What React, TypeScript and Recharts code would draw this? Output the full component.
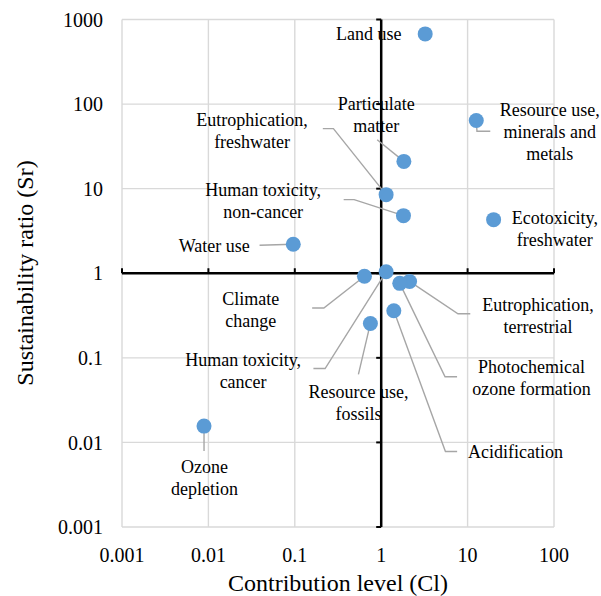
import React from 'react';
import {
  ScatterChart,
  Scatter,
  XAxis,
  YAxis,
  CartesianGrid,
  ReferenceLine,
  Label,
} from 'recharts';

const categories = [
  'Land use',
  'Resource use, minerals and metals',
  'Particulate matter',
  'Eutrophication, freshwater',
  'Human toxicity, non-cancer',
  'Ecotoxicity, freshwater',
  'Water use',
  'Climate change',
  'Human toxicity, cancer',
  'Eutrophication, terrestrial',
  'Photochemical ozone formation',
  'Acidification',
  'Resource use, fossils',
  'Ozone depletion',
];

// Contribution level (Cl)
const contributionLevel = [3.23, 12.6, 1.83, 1.14, 1.81, 20, 0.096, 0.64, 1.14, 2.13, 1.64, 1.4, 0.75, 0.0089];
// Sustainability ratio (Sr)
const sustainabilityRatio = [676, 64, 21, 8.5, 4.8, 4.3, 2.2, 0.92, 1.04, 0.8, 0.76, 0.36, 0.255, 0.0156];

const xTicks = [0.001, 0.01, 0.1, 1, 10, 100];
const yTicks = [0.001, 0.01, 0.1, 1, 10, 100, 1000];

const labelLines: string[][] = [
  ['Land use'],
  ['Resource use,', 'minerals and', 'metals'],
  ['Particulate', 'matter'],
  ['Eutrophication,', 'freshwater'],
  ['Human toxicity,', 'non-cancer'],
  ['Ecotoxicity,', 'freshwater'],
  ['Water use'],
  ['Climate', 'change'],
  ['Human toxicity,', 'cancer'],
  ['Eutrophication,', 'terrestrial'],
  ['Photochemical', 'ozone formation'],
  ['Acidification'],
  ['Resource use,', 'fossils'],
  ['Ozone', 'depletion'],
];

// label placement in px relative to the marker: centre x, first line y
const labelOffsets: [number, number][] = [
  [-56.5, 0],
  [73.5, -10],
  [-27.7, -57.7],
  [-134, -74.3],
  [-140.3, -25.5],
  [61.2, -2],
  [-79, 1.5],
  [-113.6, 22.3],
  [-143, 88],
  [128.4, 23.3],
  [131.8, 83.4],
  [121.6, 141.7],
  [-11.8, 68.4],
  [0.5, 40.7],
];

// leader line vertices in px relative to the marker
const leaderPaths: [number, number][][] = [
  [],
  [[0, 0], [0.7, 10.7], [14, 10.7]],
  [[-26.7, -21.7], [0, 0]],
  [[-63.3, -66], [-52.7, -66], [0, 0]],
  [[-59.8, -16], [-49.3, -16], [0, 0]],
  [],
  [[-33.7, 1], [0, 0]],
  [[-52.3, 31.7], [-40.6, 31.7], [0, 0]],
  [[-72.7, 96.7], [-61, 96.7], [0, 0]],
  [[60.7, 32.3], [48.4, 32.3], [0, 0]],
  [[57.3, 93.4], [45.3, 93.4], [0, 0]],
  [[63.3, 140.7], [51.6, 140.7], [0, 0]],
  [[-12, 51], [0, 0]],
  [[0, 0], [0, 25]],
];

const FONT = '"Liberation Serif", "Times New Roman", serif';
const LINE_H = 22;

const points = categories.map((name, i) => ({
  name,
  idx: i,
  cl: contributionLevel[i],
  sr: sustainabilityRatio[i],
}));
const xAxisMarks = xTicks.map((t) => ({ cl: t, sr: 1 }));
const yAxisMarks = yTicks.map((t) => ({ cl: 1, sr: t }));

const fmt = (v: number) => String(v);

const Leader = (props: any) => {
  const { cx, cy, payload } = props;
  const path = leaderPaths[payload.idx];
  if (!path || path.length < 2) return <g />;
  const pts = path.map(([dx, dy]) => `${cx + dx},${cy + dy}`).join(' ');
  return <polyline points={pts} fill="none" stroke="#a6a6a6" strokeWidth={1.4} />;
};

const Dot = (props: any) => {
  const { cx, cy } = props;
  return <circle cx={cx} cy={cy} r={7.5} fill="#5b9bd5" />;
};

const PointLabel = (props: any) => {
  const { cx, cy, payload } = props;
  const [dx, dy] = labelOffsets[payload.idx];
  return (
    <g>
      {labelLines[payload.idx].map((line, k) => (
        <text
          key={k}
          x={cx + dx}
          y={cy + dy + k * LINE_H}
          textAnchor="middle"
          dominantBaseline="central"
          fontFamily={FONT}
          fontSize={18}
          fill="#000"
        >
          {line}
        </text>
      ))}
    </g>
  );
};

const XTickMark = (props: any) => {
  const { cx, cy } = props;
  return <line x1={cx} y1={cy} x2={cx} y2={cy - 5} stroke="#000" strokeWidth={2} />;
};

const YTickMark = (props: any) => {
  const { cx, cy } = props;
  return <line x1={cx} y1={cy} x2={cx - 5} y2={cy} stroke="#000" strokeWidth={2} />;
};

export default function App() {
  return (
    <div style={{ position: 'absolute', left: 0, top: 0, background: '#fff' }}>
      <ScatterChart
        width={601}
        height={596}
        margin={{ top: 19.5, right: 47, left: 0, bottom: 0 }}
      >
        <CartesianGrid stroke="#d9d9d9" strokeWidth={1.4} />
        <XAxis
          type="number"
          dataKey="cl"
          scale="log"
          domain={[0.001, 100]}
          ticks={xTicks}
          tickFormatter={fmt}
          axisLine={false}
          tickLine={false}
          tickSize={0}
          tickMargin={21}
          height={69}
          interval={0}
          tick={{ fill: '#000', fontSize: 20, fontFamily: FONT }}
        >
          <Label
            value="Contribution level (Cl)"
            position="insideBottom"
            offset={5}
            style={{ fill: '#000', fontSize: 24, fontFamily: FONT }}
          />
        </XAxis>
        <YAxis
          type="number"
          dataKey="sr"
          scale="log"
          domain={[0.001, 1000]}
          ticks={yTicks}
          tickFormatter={fmt}
          axisLine={false}
          tickLine={false}
          tickSize={0}
          tickMargin={19}
          width={122}
          interval={0}
          tick={{ fill: '#000', fontSize: 20, fontFamily: FONT }}
        >
          <Label
            content={() => (
              <text
                x={25}
                y={273}
                transform="rotate(-90, 25, 273)"
                textAnchor="middle"
                dominantBaseline="central"
                fontFamily={FONT}
                fontSize={24}
                fill="#000"
              >
                Sustainability ratio (Sr)
              </text>
            )}
          />
        </YAxis>
        <ReferenceLine x={1} stroke="#000" strokeWidth={2.5} />
        <ReferenceLine y={1} stroke="#000" strokeWidth={2.5} />
        <Scatter data={xAxisMarks} shape={XTickMark} isAnimationActive={false} />
        <Scatter data={yAxisMarks} shape={YTickMark} isAnimationActive={false} />
        <Scatter data={points} shape={Leader} isAnimationActive={false} />
        <Scatter data={points} shape={Dot} isAnimationActive={false} />
        <Scatter data={points} shape={PointLabel} isAnimationActive={false} />
      </ScatterChart>
    </div>
  );
}
